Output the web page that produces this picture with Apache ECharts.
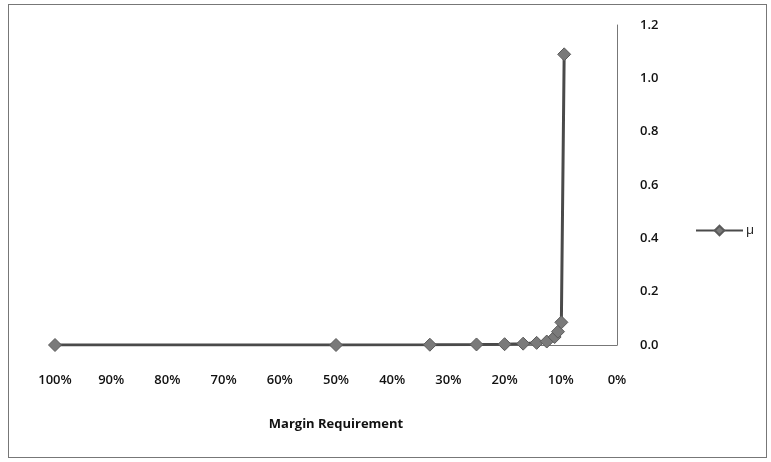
<!DOCTYPE html>
<html>
<head>
<meta charset="utf-8">
<script src="https://cdn.jsdelivr.net/npm/echarts@6/dist/echarts.min.js"></script>
<style>
  html, body { margin: 0; padding: 0; background: #fff; }
  #frame { position: absolute; left: 8px; top: 4px; width: 759px; height: 454px; border: 1px solid #777; box-sizing: border-box; }
  #chart { position: absolute; left: 0; top: 0; width: 771px; height: 462px; }
</style>
</head>
<body>
<div id="frame"></div>
<div id="chart"></div>
<script>
// Margin requirement (%) and the corresponding μ
const marginPct = [100, 50, 33.3, 25, 20, 16.7, 14.3, 12.5, 11.1, 10.5, 9.9, 9.4];
const muValues  = [0.0, 0.0, 0.001, 0.002, 0.003, 0.005, 0.008, 0.013, 0.03, 0.05, 0.085, 1.09];
const seriesName = 'μ';
const xTitle = 'Margin Requirement';

const points = marginPct.map((m, i) => [m, muValues[i]]);
const font = '"Open Sans", "DejaVu Sans", sans-serif';

const chart = echarts.init(document.getElementById('chart'), null, { renderer: 'canvas' });
chart.setOption({
  animation: false,
  backgroundColor: 'transparent',
  grid: { left: 55, right: 154, top: 25, bottom: 117 },
  legend: {
    data: [seriesName],
    left: 690, top: 219,
    itemWidth: 47, itemHeight: 12, itemGap: 4,
    textStyle: { fontFamily: font, fontSize: 13, color: '#111', padding: [0, 0, 0, -2] }
  },
  xAxis: {
    type: 'value', inverse: true, min: 0, max: 100, interval: 10,
    name: xTitle, nameLocation: 'middle', nameGap: 73,
    nameTextStyle: { fontFamily: font, fontSize: 13, fontWeight: 'bold', color: '#111' },
    axisLine: { show: true, lineStyle: { color: '#777', width: 1 } },
    axisTick: { show: false },
    splitLine: { show: false },
    axisLabel: { formatter: '{value}%', fontFamily: font, fontSize: 13, fontWeight: 600, color: '#111', margin: 29 }
  },
  yAxis: {
    type: 'value', position: 'right', min: 0, max: 1.2, interval: 0.2,
    axisLine: { show: true, lineStyle: { color: '#777', width: 1 } },
    axisTick: { show: false },
    splitLine: { show: false },
    axisLabel: { formatter: v => v.toFixed(1), fontFamily: font, fontSize: 13, fontWeight: 600, color: '#111', margin: 23 }
  },
  series: [{
    name: seriesName,
    type: 'line',
    data: points,
    symbol: 'diamond',
    symbolSize: 13,
    lineStyle: { color: '#4a4a4a', width: 3 },
    itemStyle: { color: '#7a7a7a', borderColor: '#5a5a5a', borderWidth: 1 }
  }]
});
</script>
</body>
</html>
